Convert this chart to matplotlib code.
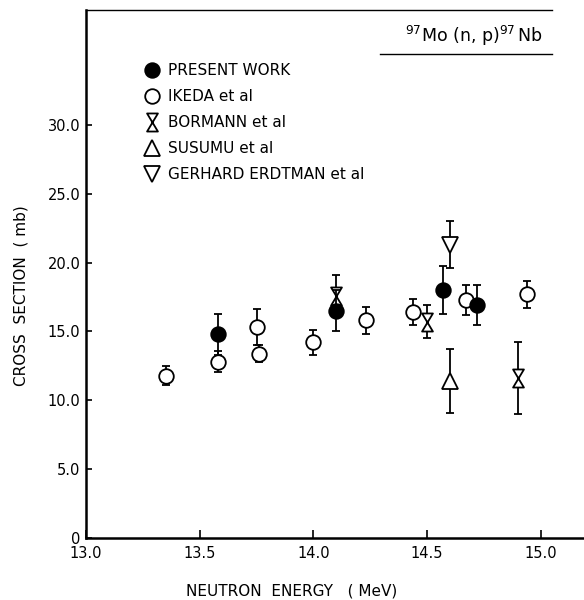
import matplotlib
matplotlib.use("Agg")
import matplotlib.pyplot as plt
from matplotlib.path import Path
from matplotlib.lines import Line2D

# ---- data ----
present_E = [13.58, 14.10, 14.57, 14.72]
present_S = [14.8, 16.5, 18.0, 16.9]
present_err = [1.5, 1.5, 1.75, 1.45]

ikeda_E = [13.35, 13.58, 13.75, 13.76, 14.00, 14.23, 14.44, 14.67, 14.94]
ikeda_S = [11.8, 12.8, 15.3, 13.4, 14.2, 15.8, 16.4, 17.3, 17.7]
ikeda_err = [0.7, 0.75, 1.3, 0.65, 0.9, 0.95, 0.95, 1.1, 1.0]

bormann_E = [14.10, 14.50, 14.90]
bormann_S = [17.6, 15.7, 11.6]
bormann_err = [1.5, 1.2, 2.6]

susumu_E = [14.60]
susumu_S = [11.4]
susumu_err = [2.35]

gerhard_E = [14.60]
gerhard_S = [21.3]
gerhard_err = [1.7]

legend_labels = ["PRESENT WORK", "IKEDA et al", "BORMANN et al",
                 "SUSUMU et al", "GERHARD ERDTMAN et al"]
xticks = [13.0, 13.5, 14.0, 14.5, 15.0]
xticklabels = ["13.0", "13.5", "14.0", "14.5", "15.0"]
yticks = [0, 5, 10, 15, 20, 25, 30]
yticklabels = ["0", "5.0", "10.0", "15.0", "20.0", "25.0", "30.0"]

plt.rcParams['font.family'] = ['DejaVu Sans']

hourglass = Path([(-0.6, 1), (0.6, 1), (-0.6, -1), (0.6, -1), (-0.6, 1)],
                 [Path.MOVETO, Path.LINETO, Path.LINETO, Path.LINETO, Path.CLOSEPOLY])

fig = plt.figure(figsize=(5.84, 6.0), dpi=100)
ax = fig.add_axes([86/584, 62/600, 498/584, 528/600])

eb_kw = dict(ecolor='black', elinewidth=1.3, capsize=3, capthick=1.3,
             linestyle='none', mec='black', mew=1.3)

ax.errorbar(ikeda_E, ikeda_S, yerr=ikeda_err, fmt='o', ms=10.5, mfc='white', zorder=3, **eb_kw)
ax.errorbar(bormann_E, bormann_S, yerr=bormann_err, fmt='none', zorder=2,
            ecolor='black', elinewidth=1.3, capsize=3, capthick=1.3)
ax.plot(bormann_E, bormann_S, linestyle='none', marker=hourglass, ms=13, mfc='white',
        mec='black', mew=1.3, zorder=3)
ax.errorbar(susumu_E, susumu_S, yerr=susumu_err, fmt='^', ms=12, mfc='white', zorder=3, **eb_kw)
ax.errorbar(gerhard_E, gerhard_S, yerr=gerhard_err, fmt='v', ms=12, mfc='white', zorder=3, **eb_kw)
ax.errorbar(present_E, present_S, yerr=present_err, fmt='o', ms=10.5, mfc='black', zorder=4, **eb_kw)

ax.set_xlim(13.0, 15.19)
ax.set_ylim(0, 38.35)
ax.set_xticks(xticks)
ax.set_xticklabels(xticklabels)
ax.set_yticks(yticks)
ax.set_yticklabels(yticklabels)
ax.tick_params(axis='x', direction='in', length=6, width=1.2, labelsize=10.5, pad=6)
ax.tick_params(axis='y', direction='in', length=4, width=1.2, labelsize=10.5, pad=4)

for s in ('left', 'bottom'):
    ax.spines[s].set_linewidth(1.8)
ax.spines['right'].set_visible(False)
ax.spines['top'].set_linewidth(1.0)
ax.spines['top'].set_bounds(13.0, 15.05)

ax.set_xlabel("NEUTRON  ENERGY   ( MeV)", fontsize=11)
ax.xaxis.set_label_coords((292 - 86) / 498, (538 - 583) / 528)
ax.set_ylabel("CROSS  SECTION  ( mb)", fontsize=11)
ax.yaxis.set_label_coords((29 - 86) / 498, (538 - 296) / 528)

# title with underline
fig.text(543/584, 1 - 42/600, r"$^{97}$Mo (n, p)$^{97}\,$Nb",
         ha='right', va='baseline', fontsize=12.5)
fig.add_artist(Line2D([380/584, 552/584], [1 - 54/600, 1 - 54/600],
                      transform=fig.transFigure, color='black', lw=1.0))

handles = [
    Line2D([], [], linestyle='none', marker='o', ms=10.5, mfc='black', mec='black', mew=1.3),
    Line2D([], [], linestyle='none', marker='o', ms=10.5, mfc='white', mec='black', mew=1.3),
    Line2D([], [], linestyle='none', marker=hourglass, ms=13, mfc='white', mec='black', mew=1.3),
    Line2D([], [], linestyle='none', marker='^', ms=12, mfc='white', mec='black', mew=1.3),
    Line2D([], [], linestyle='none', marker='v', ms=12, mfc='white', mec='black', mew=1.3),
]
fig.legend(handles, legend_labels, loc='upper left', bbox_to_anchor=(144/584, 1 - 63/600),
           frameon=False, fontsize=11, handlelength=1.0, handletextpad=0.6,
           labelspacing=0.72, borderpad=0, borderaxespad=0)

fig.savefig("out.png", dpi=100)
